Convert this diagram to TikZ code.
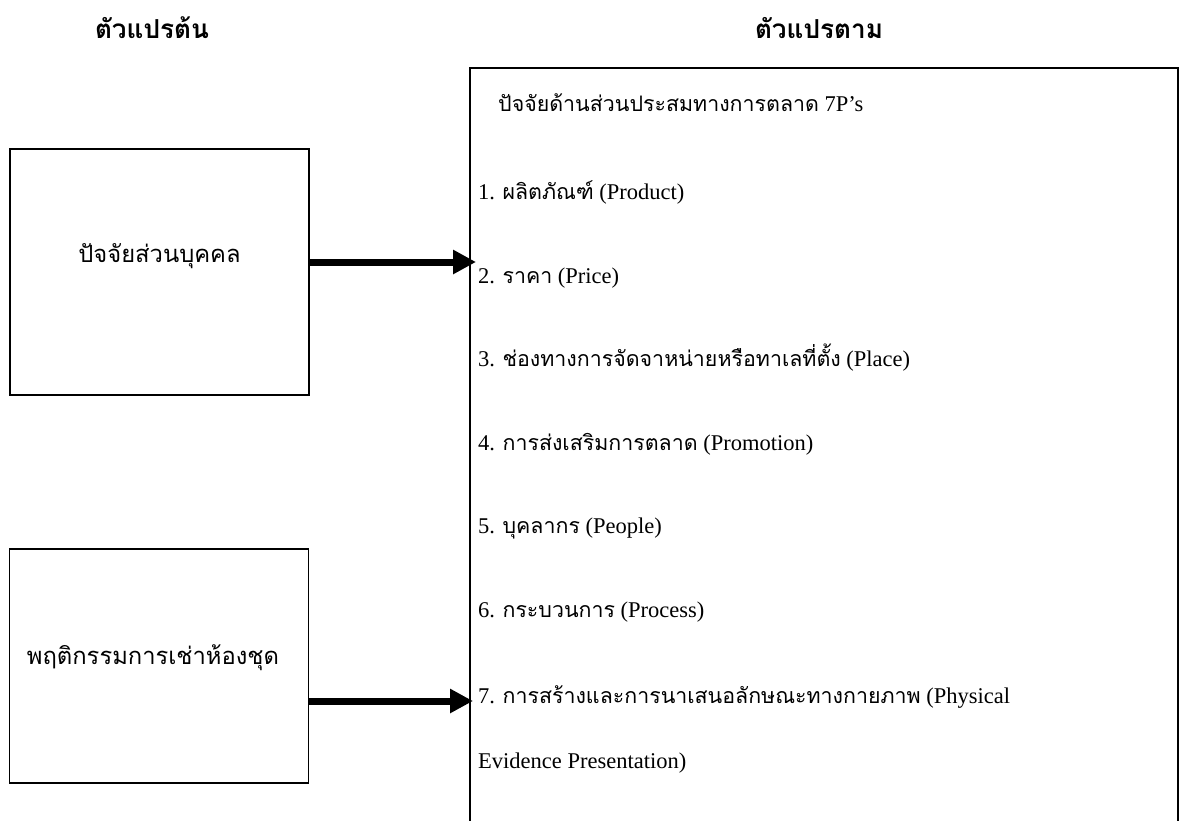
\documentclass[tikz,border=0pt]{standalone}
\usepackage{fontspec}
\setmainfont{Liberation Serif}
\newfontfamily\thaifont[Script=Thai,Scale=0.95]{Loma}
\newcommand{\thtxt}[1]{{\thaifont #1}}
\usetikzlibrary{arrows.meta,positioning}

\begin{document}
\begin{tikzpicture}[
    x=1pt, y=-1pt,
    boxstyle/.style  = {draw,
                        line width=1.6pt,
                        minimum width=299pt,
                        minimum height=246pt},
    textstyle/.style = {inner sep=0pt,
                        anchor=base west,
                        font=\fontsize{22.5}{26}\selectfont},
    boxtext/.style   = {inner sep=0pt,
                        anchor=base,
                        font=\fontsize{25}{29}\selectfont},
    headstyle/.style = {inner sep=0pt,
                        anchor=base,
                        font=\fontsize{27.5}{31}\selectfont\bfseries},
    arr/.style       = {line width=7pt,
                        -{Triangle[length=23pt,width=23pt]}}
]
\useasboundingbox (0,0) rectangle (1183,820);

% titles
\node (t0) [headstyle] at (152,38) {\thtxt{ตัวแปรต้น}};
\node (t1) [headstyle] at (819,38) {\thtxt{ตัวแปรตาม}};

% left boxes
\node (a0) [boxstyle] at (159.5,272) {};
\node (a0txt) [boxtext] at (159.5,262) {\thtxt{ปัจจัยส่วนบุคคล}};

\node (b0) [boxstyle, minimum height=234pt] at (159,666) {};
\node (b0txt) [boxtext] at (153,664) {\thtxt{พฤติกรรมการเช่าห้องชุด}};

% right box
\node (r0) [draw, line width=1.6pt, anchor=north west,
            minimum width=708pt, minimum height=780pt] at (469,67) {};

\node (h0) [textstyle] at (498,111) {\thtxt{ปัจจัยด้านส่วนประสมทางการตลาด} 7P’s};
\node (p1) [textstyle] at (478,199) {1. \thtxt{ผลิตภัณฑ์} (Product)};
\node (p2) [textstyle] at (478,283) {2. \thtxt{ราคา} (Price)};
\node (p3) [textstyle] at (478,366) {3. \thtxt{ช่องทางการจัดจาหน่ายหรือทาเลที่ตั้ง} (Place)};
\node (p4) [textstyle] at (478,450) {4. \thtxt{การส่งเสริมการตลาด} (Promotion)};
\node (p5) [textstyle] at (478,533) {5. \thtxt{บุคลากร} (People)};
\node (p6) [textstyle] at (478,617) {6. \thtxt{กระบวนการ} (Process)};
\node (p7) [textstyle] at (478,703) {7. \thtxt{การสร้างและการนาเสนอลักษณะทางกายภาพ} (Physical};
\node (p7b) [textstyle] at (478,768) {Evidence Presentation)};

% arrows
\coordinate (ta) at (476,262);
\coordinate (tb) at (473,701);
\draw[arr] (a0.east |- ta) -- (ta);
\draw[arr] (b0.east |- tb) -- (tb);

\end{tikzpicture}
\end{document}
